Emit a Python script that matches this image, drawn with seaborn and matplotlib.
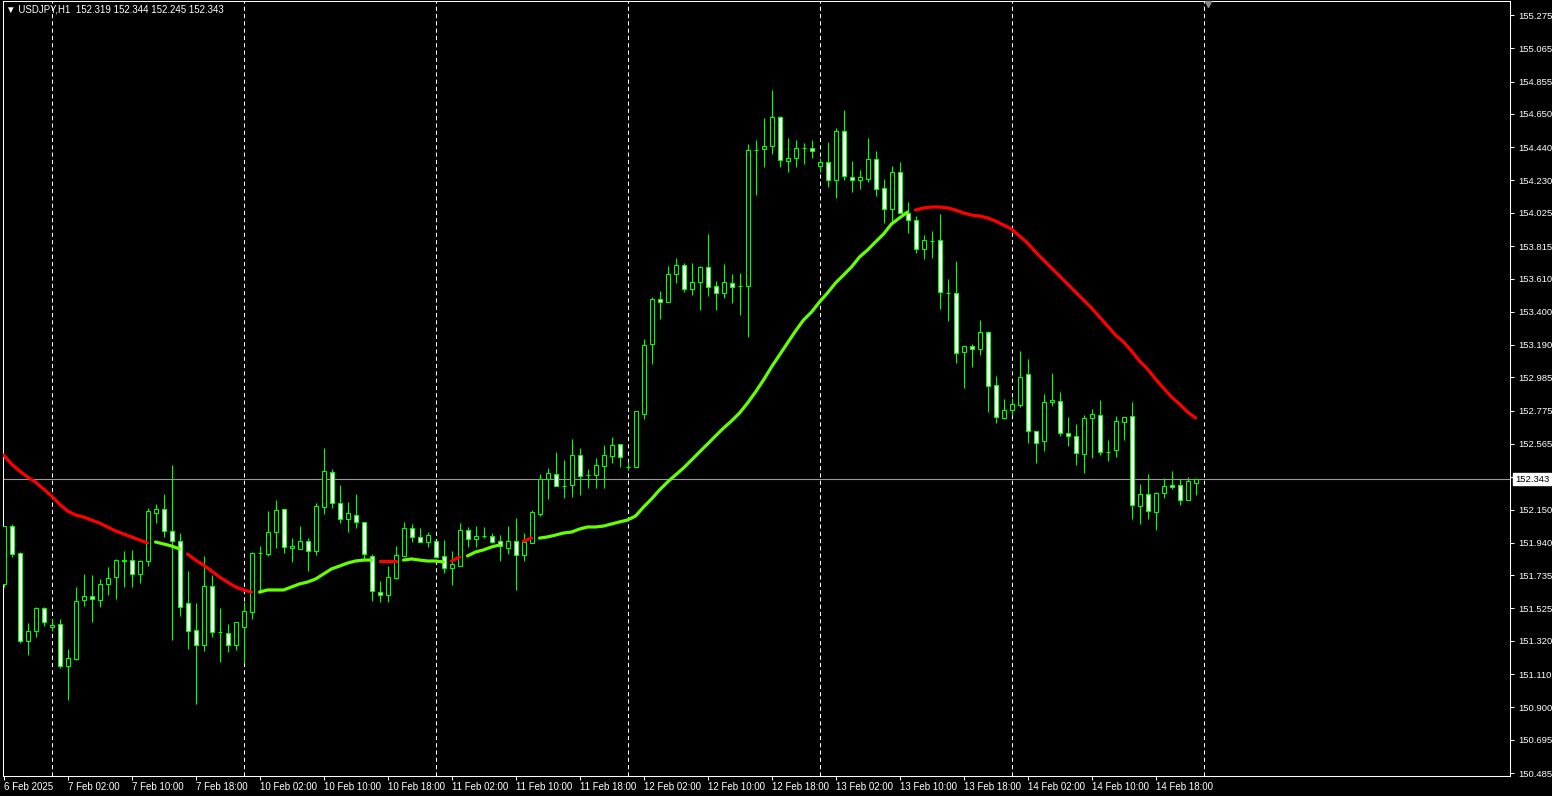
import numpy as np
import pandas as pd
import matplotlib
matplotlib.use("Agg")
import matplotlib.pyplot as plt
import matplotlib.transforms as mtransforms
import seaborn as sns

# ---------------- data ----------------
header_text = "\u25BC USDJPY,H1  152.319 152.344 152.245 152.343"

opens = [151.680, 152.046, 151.876, 151.320, 151.383, 151.528, 151.408, 151.427, 151.162, 151.206,
         151.579, 151.604, 151.579, 151.680, 151.724, 151.825, 151.831, 151.743, 151.825, 152.128,
         152.154, 152.015, 151.951, 151.560, 151.389, 151.294, 151.667, 151.376, 151.370, 151.294,
         151.408, 151.503, 151.876, 151.869, 152.008, 152.154, 151.907, 151.901, 151.951, 151.888,
         152.166, 152.387, 152.192, 152.090, 152.116, 152.072, 151.857, 151.629, 151.610, 151.718,
         151.857, 152.034, 151.977, 151.945, 151.951, 151.857, 151.781, 151.793, 152.021, 151.964,
         151.983, 151.983, 151.951, 151.907, 151.951, 151.863, 151.939, 152.122, 152.343, 152.375,
         152.299, 152.305, 152.495, 152.369, 152.369, 152.425, 152.489, 152.564, 152.419, 152.419,
         152.754, 153.196, 153.481, 153.462, 153.639, 153.696, 153.544, 153.588, 153.683, 153.563,
         153.519, 153.582, 153.563, 153.563, 154.422, 154.429, 154.447, 154.631, 154.353, 154.372,
         154.435, 154.435, 154.321, 154.346, 154.233, 154.542, 154.252, 154.233, 154.239, 154.365,
         154.182, 154.049, 154.283, 154.024, 153.980, 153.797, 153.847, 153.853, 153.519, 153.519,
         153.146, 153.184, 153.165, 153.272, 152.937, 152.729, 152.779, 152.811, 153.007, 152.646,
         152.583, 152.830, 152.836, 152.634, 152.615, 152.501, 152.729, 152.748, 152.514, 152.526,
         152.703, 152.741, 152.173, 152.248, 152.135, 152.255, 152.305, 152.305, 152.211, 152.319]

highs = [152.046, 152.059, 151.882, 151.433, 151.534, 151.534, 151.459, 151.459, 151.269, 151.661,
         151.743, 151.737, 151.711, 151.787, 151.838, 151.888, 151.895, 151.831, 152.160, 152.185,
         152.248, 152.432, 152.002, 151.762, 151.560, 151.857, 151.737, 151.528, 151.427, 151.440,
         151.566, 151.882, 151.920, 152.141, 152.211, 152.154, 151.970, 152.046, 151.970, 152.192,
         152.539, 152.406, 152.305, 152.198, 152.248, 152.072, 151.869, 151.699, 151.793, 151.920,
         152.072, 152.059, 152.034, 152.008, 151.951, 151.958, 151.888, 152.065, 152.040, 152.046,
         152.040, 152.002, 151.989, 152.046, 152.097, 152.002, 152.147, 152.375, 152.413, 152.514,
         152.463, 152.596, 152.539, 152.406, 152.476, 152.558, 152.609, 152.564, 152.451, 152.773,
         153.228, 153.493, 153.531, 153.689, 153.740, 153.708, 153.708, 153.689, 153.891, 153.594,
         153.702, 153.639, 153.645, 154.460, 154.485, 154.624, 154.801, 154.637, 154.498, 154.485,
         154.466, 154.485, 154.372, 154.473, 154.561, 154.675, 154.353, 154.296, 154.498, 154.416,
         154.239, 154.321, 154.346, 154.094, 154.005, 153.885, 153.910, 154.018, 153.607, 153.721,
         153.184, 153.196, 153.348, 153.278, 152.994, 152.849, 152.855, 153.152, 153.102, 152.646,
         152.880, 153.013, 152.893, 152.735, 152.691, 152.748, 152.786, 152.842, 152.590, 152.741,
         152.735, 152.830, 152.312, 152.375, 152.261, 152.350, 152.394, 152.343, 152.356, 152.344]

lows = [151.661, 151.850, 151.307, 151.231, 151.345, 151.414, 151.383, 151.149, 150.947, 151.200,
        151.541, 151.440, 151.534, 151.610, 151.585, 151.661, 151.661, 151.686, 151.793, 152.065,
        151.977, 151.326, 151.478, 151.269, 150.921, 151.256, 151.345, 151.187, 151.250, 151.263,
        151.181, 151.459, 151.623, 151.857, 151.907, 151.876, 151.819, 151.901, 151.762, 151.863,
        152.122, 152.160, 152.065, 152.008, 152.034, 151.838, 151.572, 151.566, 151.566, 151.711,
        151.857, 151.945, 151.945, 151.914, 151.844, 151.749, 151.673, 151.793, 151.914, 151.914,
        151.970, 151.939, 151.825, 151.869, 151.642, 151.825, 151.939, 152.109, 152.217, 152.299,
        152.223, 152.230, 152.242, 152.286, 152.286, 152.286, 152.444, 152.419, 152.400, 152.419,
        152.722, 153.070, 153.354, 153.462, 153.582, 153.525, 153.506, 153.411, 153.500, 153.411,
        153.487, 153.455, 153.380, 153.241, 154.138, 154.315, 154.397, 154.315, 154.283, 154.315,
        154.334, 154.372, 154.283, 154.188, 154.119, 154.233, 154.157, 154.176, 154.220, 154.132,
        153.961, 153.955, 154.024, 153.898, 153.771, 153.733, 153.740, 153.417, 153.342, 153.076,
        152.918, 153.051, 153.127, 152.767, 152.697, 152.722, 152.748, 152.798, 152.571, 152.444,
        152.520, 152.804, 152.615, 152.552, 152.432, 152.381, 152.476, 152.495, 152.457, 152.482,
        152.590, 152.090, 152.059, 152.090, 152.021, 152.223, 152.280, 152.179, 152.211, 152.245]

closes = [152.046, 151.869, 151.320, 151.383, 151.528, 151.440, 151.421, 151.162, 151.212, 151.572,
          151.604, 151.585, 151.680, 151.718, 151.831, 151.831, 151.743, 151.825, 152.141, 152.154,
          152.015, 151.951, 151.534, 151.383, 151.294, 151.667, 151.376, 151.376, 151.294, 151.440,
          151.509, 151.876, 151.876, 152.008, 152.147, 151.914, 151.920, 151.951, 151.888, 152.173,
          152.394, 152.192, 152.090, 152.128, 152.072, 151.869, 151.636, 151.610, 151.724, 151.863,
          152.034, 151.977, 151.945, 151.989, 151.850, 151.781, 151.806, 152.021, 151.964, 151.983,
          151.983, 151.945, 151.920, 151.951, 151.863, 151.945, 152.135, 152.343, 152.381, 152.299,
          152.299, 152.495, 152.362, 152.369, 152.432, 152.495, 152.558, 152.482, 152.419, 152.773,
          153.190, 153.481, 153.462, 153.639, 153.696, 153.544, 153.588, 153.683, 153.556, 153.519,
          153.588, 153.556, 153.563, 154.422, 154.422, 154.447, 154.631, 154.359, 154.372, 154.435,
          154.435, 154.416, 154.346, 154.233, 154.542, 154.258, 154.233, 154.252, 154.365, 154.176,
          154.049, 154.283, 154.024, 153.980, 153.797, 153.853, 153.847, 153.525, 153.519, 153.139,
          153.184, 153.165, 153.272, 152.931, 152.735, 152.779, 152.817, 152.988, 152.646, 152.571,
          152.830, 152.842, 152.634, 152.615, 152.508, 152.729, 152.754, 152.514, 152.514, 152.710,
          152.735, 152.179, 152.248, 152.141, 152.255, 152.299, 152.293, 152.211, 152.331, 152.343]

ma_values = [152.495, 152.438, 152.394, 152.356, 152.324, 152.280, 152.236, 152.185, 152.141, 152.116,
             152.103, 152.084, 152.065, 152.040, 152.015, 151.996, 151.977, 151.958, 151.939, 151.945,
             151.933, 151.920, 151.901, 151.869, 151.831, 151.800, 151.762, 151.724, 151.692, 151.661,
             151.642, 151.629, 151.629, 151.642, 151.642, 151.642, 151.661, 151.680, 151.692, 151.711,
             151.743, 151.775, 151.793, 151.812, 151.825, 151.831, 151.831, 151.825, 151.825, 151.825,
             151.831, 151.838, 151.831, 151.825, 151.825, 151.819, 151.825, 151.850, 151.857, 151.882,
             151.895, 151.914, 151.926, 151.933, 151.945, 151.951, 151.970, 151.970, 151.977, 151.989,
             152.002, 152.008, 152.027, 152.040, 152.040, 152.046, 152.059, 152.072, 152.084, 152.109,
             152.166, 152.217, 152.274, 152.324, 152.369, 152.413, 152.463, 152.514, 152.564, 152.615,
             152.665, 152.710, 152.760, 152.823, 152.893, 152.969, 153.051, 153.127, 153.203, 153.278,
             153.348, 153.398, 153.462, 153.519, 153.582, 153.632, 153.683, 153.746, 153.790, 153.841,
             153.891, 153.955, 153.993, 154.030, 154.043, 154.056, 154.062, 154.062, 154.056, 154.043,
             154.024, 154.011, 154.005, 153.993, 153.973, 153.948, 153.923, 153.879, 153.834, 153.778,
             153.727, 153.677, 153.626, 153.575, 153.525, 153.474, 153.424, 153.367, 153.310, 153.253,
             153.209, 153.152, 153.089, 153.038, 152.975, 152.918, 152.861, 152.817, 152.767, 152.729]

# MA colour state per bar: R = red buffer, G = green buffer
ma_state = ("R" * 19 + "G" * 4 + "R" * 9 + "G" * 15 + "R" * 3 + "G" * 6 + "R" * 2 +
            "G" * 5 + "R" + "G" + "R" * 2 + "G" * 47 + "R" * 36)

time_label_bars = [0, 8, 16, 24, 32, 40, 48, 56, 64, 72, 80, 88, 96, 104, 112, 120, 128, 136, 144]
time_labels = ["6 Feb 2025", "7 Feb 02:00", "7 Feb 10:00", "7 Feb 18:00", "10 Feb 02:00",
               "10 Feb 10:00", "10 Feb 18:00", "11 Feb 02:00", "11 Feb 10:00", "11 Feb 18:00",
               "12 Feb 02:00", "12 Feb 10:00", "12 Feb 18:00", "13 Feb 02:00", "13 Feb 10:00",
               "13 Feb 18:00", "14 Feb 02:00", "14 Feb 10:00", "14 Feb 18:00"]
day_separator_bars = [6, 30, 54, 78, 102, 126, 150]

price_ticks = [155.275, 155.065, 154.855, 154.650, 154.440, 154.230, 154.025, 153.815, 153.610,
               153.400, 153.190, 152.985, 152.775, 152.565, 152.355, 152.150, 151.940, 151.735,
               151.525, 151.320, 151.110, 150.900, 150.695, 150.485]
current_price = 152.343

# ---------------- style ----------------
sns.set_theme(style="dark", rc={
    "figure.facecolor": "black", "axes.facecolor": "black",
    "axes.edgecolor": "white", "axes.grid": False,
    "text.color": "white", "xtick.color": "white", "ytick.color": "white",
})
plt.rcParams["font.family"] = ["Liberation Sans", "DejaVu Sans"]

CANDLE = "#00ff00"
MA_UP = "#66ff00"
MA_DN = "#ff0000"

W, H = 1552, 796
fig = plt.figure(figsize=(W / 100, H / 100), dpi=100, facecolor="black")
ax = fig.add_axes([3 / W, 20 / H, 1507 / W, 775 / H])
ax.set_facecolor("black")

x = np.arange(len(opens))
o = np.array(opens); h = np.array(highs); l = np.array(lows); c = np.array(closes)

# current price line
ax.axhline(current_price, color="#9a9a9a", lw=0.8, zorder=1)

# day separators
for b in day_separator_bars:
    ax.axvline(b, color="white", lw=0.75, ls=(0, (4, 3)), zorder=1.2)

# wicks
ax.vlines(x, l, h, color=CANDLE, lw=0.8, zorder=2)
# bodies
bottoms = np.minimum(o, c)
heights = np.abs(c - o)
faces = ["white" if cc < oo else "black" for oo, cc in zip(o, c)]
ax.bar(x, heights, bottom=bottoms, width=0.5, color=faces, edgecolor=CANDLE,
       linewidth=0.75, zorder=3)

# moving average in colour runs (gaps where state switches)
df = pd.DataFrame({"bar": x, "ma": ma_values, "state": list(ma_state)})
run_id = (df["state"] != df["state"].shift()).cumsum()
for _, seg in df.groupby(run_id):
    if len(seg) < 2:
        continue
    col = MA_UP if seg["state"].iloc[0] == "G" else MA_DN
    sns.lineplot(data=seg, x="bar", y="ma", color=col, lw=2.3, ax=ax,
                 legend=False, sort=False, estimator=None, zorder=4)

# axes limits & ticks
ax.set_xlim(-0.0625, 188.3125)
ax.set_ylim(150.4665, 155.3637)
ax.set_xlabel(""); ax.set_ylabel("")
ax.yaxis.tick_right()
ax.set_yticks(price_ticks)
ax.set_yticklabels(["" if abs(t - 152.355) < 1e-6 else f"{t:.3f}" for t in price_ticks])
ax.set_xticks(time_label_bars)
ax.set_xticklabels(time_labels)
for lbl in ax.get_xticklabels():
    lbl.set_horizontalalignment("left")
ax.tick_params(axis="y", colors="white", labelsize=6.8, length=3, width=0.75,
               direction="out", pad=3, right=True, left=False)
ax.tick_params(axis="x", colors="white", labelsize=7, length=3, width=0.75,
               direction="out", pad=1.5, bottom=True)
for sp in ax.spines.values():
    sp.set_color("white")
    sp.set_linewidth(0.75)

# current price label on the axis
trans = mtransforms.blended_transform_factory(ax.transAxes, ax.transData)
ax.text(1 + 5 / 1507, current_price, "152.343", transform=trans, ha="left", va="center",
        fontsize=6.8, color="black", zorder=10, clip_on=False,
        bbox=dict(facecolor="white", edgecolor="white", pad=1.2))

# chart shift marker
ax.plot([150.56], [0.996], marker="v", ms=5, color="#8a8a8a",
        transform=mtransforms.blended_transform_factory(ax.transData, ax.transAxes),
        clip_on=False, zorder=10)

# header
fig.text(6 / W, 1 - 10 / H, header_text, color="white", fontsize=7, va="center", ha="left")

fig.savefig("out.png", dpi=100, facecolor="black")
